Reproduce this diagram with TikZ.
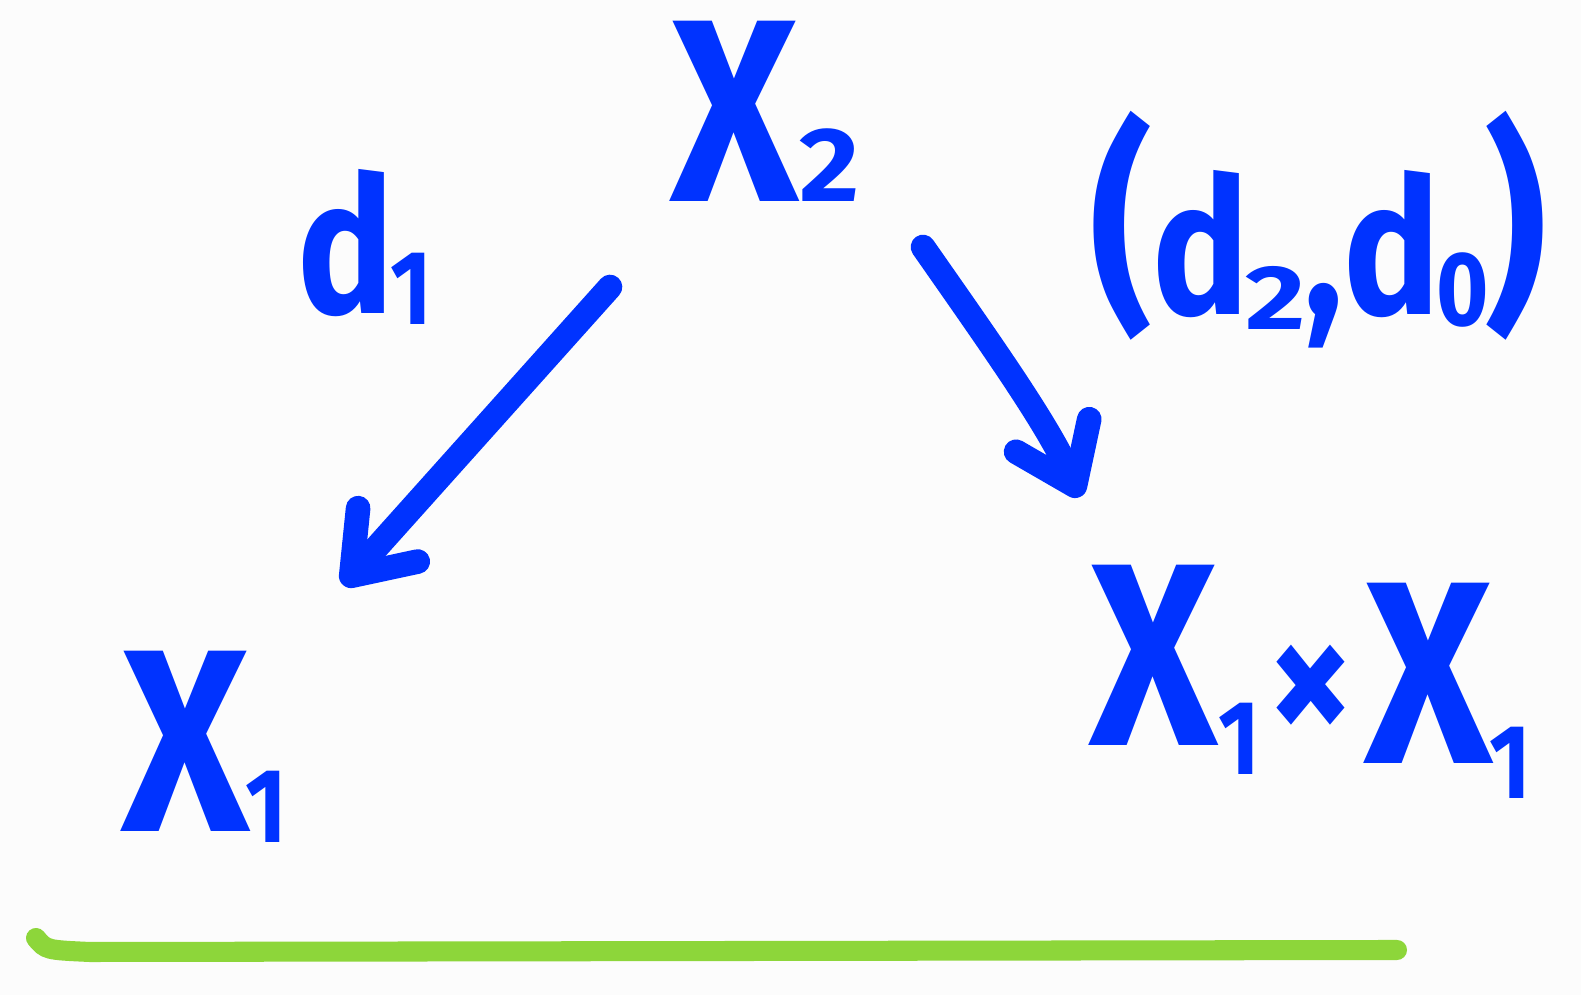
\documentclass[tikz,border=0pt]{standalone}
\usepackage{fontspec}
\usepackage{graphicx}
\setmainfont{Fira Sans}[FakeStretch=0.85]
\usetikzlibrary{arrows.meta,calc}
\definecolor{ink}{HTML}{0033FF}
\definecolor{leaf}{HTML}{8DD63A}
\definecolor{paper}{HTML}{FCFCFC}
\newcommand\mysub[2]{\raisebox{#1}{\fontsize{30}{34}\selectfont #2}}
\newcommand\widetwo{\scalebox{1.3}[1]{2}}
\newcommand\flattwo{\scalebox{1.5}[1]{\fontsize{26}{30}\selectfont 2}}
\newcommand\paren[1]{\raisebox{3pt}{\fontsize{64}{70}\selectfont #1}}
\newcommand\smalltimes{{\fontsize{56}{60}\selectfont ×}}
\begin{document}
\begin{tikzpicture}[x=0.01cm,y=-0.01cm,
  big/.style={text=ink,font=\bfseries\fontsize{74}{80}\selectfont,inner sep=0pt,anchor=base west},
  lab/.style={text=ink,font=\bfseries\fontsize{54}{60}\selectfont,inner sep=0pt,anchor=base west},
  arr/.style={draw=ink,line width=7pt,line cap=round,-{Straight Barb[length=0.55cm,width=0.8cm,round]}}]
\fill[paper] (0,0) rectangle (1581,995);
\useasboundingbox (0,0) rectangle (1581,995);
\node[big] (X2) at (670,202) {X\kern0.0em\mysub{0pt}{\widetwo}};
\node[lab] (d1) at (297,314) {d\kern-0.02em\mysub{-3pt}{1}};
\node[lab] (d20) at (1090,315) {\paren{(}\kern0.0em d\kern-0.02em\raisebox{-4pt}{\flattwo}\kern-0.01em,\kern0.0em d\kern-0.02em\mysub{-3pt}{0}\kern-0.02em\paren{)}};
\node[big] (X1) at (121,832) {X\kern-0.02em\mysub{-3pt}{1}};
\node[big] (XX) at (1089,746) {X\kern0.0em\mysub{-8pt}{1}\kern0.03em\smalltimes\kern0.04em\raisebox{-5pt}{X}\kern-0.015em\mysub{-15pt}{1}};
\coordinate (ls) at (610,287);
\coordinate (le) at (343,585);
\coordinate (rs) at (923,247);
\coordinate (re) at (1080,497);
\draw[arr] (ls) -- (le);
\draw[arr] (rs) .. controls (995,350) and (1048,425) .. (re);
\draw[leaf,line width=5.7pt,line cap=round] (36,938) .. controls (46,950) .. (90,952) -- (1397,950);
\end{tikzpicture}
\end{document}
